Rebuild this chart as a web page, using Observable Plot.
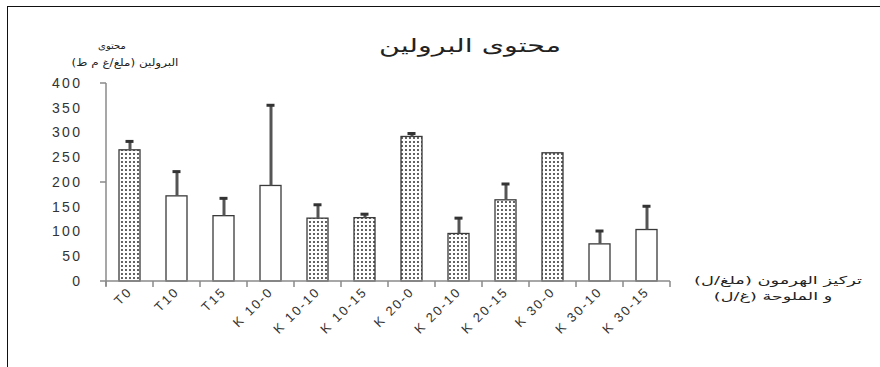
<!DOCTYPE html>
<html><head><meta charset="utf-8">
<script src="https://cdn.jsdelivr.net/npm/d3@7"></script>
<script src="https://cdn.jsdelivr.net/npm/@observablehq/plot@0.6"></script>
<style>
body{margin:0;background:#fff;}
#wrap{position:relative;width:880px;height:367px;overflow:hidden;background:#fff;}
#chart{position:absolute;left:0;top:0;}
.t{position:absolute;font-family:"DejaVu Sans",sans-serif;color:#222;white-space:nowrap;direction:rtl;}
#frame{position:absolute;left:7px;top:6px;right:-5px;bottom:-5px;border-top:1.5px solid #111;border-left:1.5px solid #111;pointer-events:none;}
#chart g[aria-label="y-axis tick label"] text{letter-spacing:2.4px;}
#chart g[aria-label="x-axis tick label"] text{letter-spacing:2px;}
</style></head><body>
<div id="wrap">
<div id="chart"></div>
<div id="frame"></div>
<div class="t" style="left:470px;top:45px;font-size:19px;transform:translate(-50%,-50%) scaleX(1.5);">محتوى البرولين</div>
<div class="t" style="left:112px;top:45px;font-size:10px;transform:translate(-50%,-50%);">محتوى</div>
<div class="t" style="left:125px;top:62px;font-size:10px;transform:translate(-50%,-50%) scaleX(1.2);">البرولين (ملغ/غ م ط)</div>
<div class="t" style="left:778px;top:280px;font-size:11px;transform:translate(-50%,-50%) scaleX(1.62);">تركيز الهرمون (ملغ/ل)</div>
<div class="t" style="left:773px;top:296px;font-size:11px;transform:translate(-50%,-50%) scaleX(1.6);">و الملوحة (غ/ل)</div>
</div>
<script>
const categories = ["T0","T10","T15","K 10-0","K 10-10","K 10-15","K 20-0","K 20-10","K 20-15","K 30-0","K 30-10","K 30-15"];
const means  = [265, 172, 132, 193, 127, 128, 292, 96, 164, 259, 75, 104];
const errors = [18, 50, 36, 163, 28, 8, 7, 32, 33, 0, 27, 48];
const dottedCategories = ["T0","K 10-10","K 10-15","K 20-0","K 20-10","K 20-15","K 30-0"];
const yTicks = [0, 50, 100, 150, 200, 250, 300, 350, 400];
const yMajorTicks = [0, 200, 400];

const rows = categories.map((c, i) => ({
  cat: c, mean: means[i], upper: means[i] + errors[i], dotted: dottedCategories.includes(c)
}));

const defs = () => {
  const s = d3.create("svg:defs");
  const p = s.append("pattern").attr("id", "dots").attr("width", 4).attr("height", 4)
    .attr("patternUnits", "userSpaceOnUse");
  p.append("rect").attr("width", 4).attr("height", 4).attr("fill", "#fff");
  p.append("circle").attr("cx", 2).attr("cy", 2).attr("r", 0.95).attr("fill", "#222");
  return s.node();
};

const axes = (index, scales, values, dims) => {
  const x = scales.x, y = scales.y;
  const xs = categories.map(c => x(c));
  const step = xs[1] - xs[0];
  const bw = typeof x.bandwidth === "function" ? x.bandwidth() : step * 0.44;
  const gap = (step - bw) / 2;
  const g = d3.create("svg:g").attr("stroke", "#8a8a8a").attr("stroke-width", 1.5);
  const y0 = y(0), yTop = y(400);
  const left = xs[0] - gap, right = xs[xs.length - 1] + bw + gap;
  g.append("line").attr("x1", left).attr("x2", left).attr("y1", yTop).attr("y2", y0 + 5);
  g.append("line").attr("x1", left).attr("x2", right).attr("y1", y0).attr("y2", y0);
  const bounds = xs.map(v => v - gap).concat([right]);
  for (const b of bounds) g.append("line").attr("x1", b).attr("x2", b).attr("y1", y0).attr("y2", y0 + 6);
  for (const t of yMajorTicks) g.append("line").attr("x1", left - 6).attr("x2", left).attr("y1", y(t)).attr("y2", y(t));
  return g.node();
};

const plot = Plot.plot({
  width: 880,
  height: 367,
  marginLeft: 101,
  marginRight: 205,
  marginTop: 83,
  marginBottom: 86,
  style: {fontFamily: "Liberation Sans, Arial, sans-serif", background: "transparent"},
  x: {domain: categories, paddingInner: 0.56, paddingOuter: 0.28, label: null},
  y: {domain: [0, 400], label: null},
  marks: [
    defs,
    Plot.barY(rows, {x: "cat", y: "mean", fill: d => d.dotted ? "url(#dots)" : "#fff", stroke: "#3a3a3a", strokeWidth: 1.3}),
    Plot.ruleX(rows.filter(d => d.upper > d.mean), {x: "cat", y1: "mean", y2: "upper", stroke: "#555", strokeWidth: 3}),
    Plot.tickY(rows.filter(d => d.upper > d.mean), {x: "cat", y: "upper", stroke: "#333", strokeWidth: 3, insetLeft: 6.5, insetRight: 6.5}),
    axes,
    Plot.axisY({ticks: yTicks, tickSize: 0, tickPadding: 19, fontSize: 14, fill: "#333"}),
    Plot.axisX({tickRotate: -45, tickSize: 0, tickPadding: 8, fontSize: 13, fill: "#333", label: null})
  ]
});
document.getElementById("chart").appendChild(plot);
</script>
</body></html>
